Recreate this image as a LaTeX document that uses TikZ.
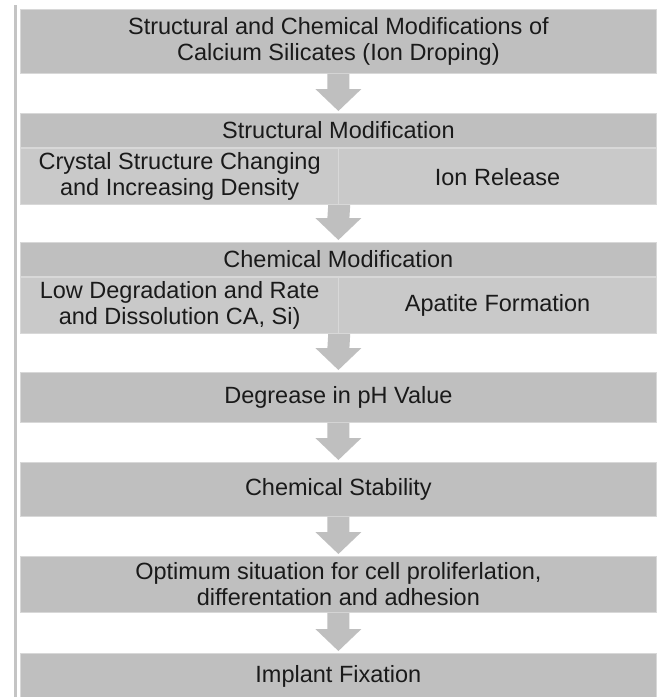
\documentclass[tikz,border=0pt]{standalone}
\usepackage{fontspec}
\setmainfont{Liberation Sans}
\usetikzlibrary{calc}
\definecolor{boxgray}{HTML}{BFBFBF}
\definecolor{cellgray}{HTML}{C9C9C9}
\definecolor{edgegray}{HTML}{D8D8D8}
\definecolor{linegray}{HTML}{C4C4C4}
\definecolor{txt}{HTML}{1A1A1A}
\newcommand\fatarrow[2]{%
  \fill[boxgray] ($(#1)+(-11,0)$) -- ($(#2)+(-11,24)$) -- ($(#2)+(-23,24)$)
    -- ($(#2)+(0,2)$) -- ($(#2)+(23,24)$) -- ($(#2)+(11,24)$)
    -- ($(#1)+(11,0)$) -- cycle;}
\begin{document}
\begin{tikzpicture}[x=1pt,y=1pt,
  box/.style={rectangle, fill=boxgray, draw=edgegray, line width=0.8pt,
    inner sep=0pt, align=center, text=txt, anchor=north west,
    minimum width=636pt, font=\fontsize{23.5}{26}\selectfont},
  cell/.style={box, fill=cellgray, minimum width=318pt, minimum height=56pt, line width=1.2pt}]
\useasboundingbox[fill=white] (0,0) rectangle (660,-697);
\draw[line width=3pt, draw=linegray] (15.5,-5) -- (15.5,-697);

\node[box, minimum height=64pt] (top) at (20,-9)
  {Structural and Chemical Modifications of\\Calcium Silicates (Ion Droping)};
\node[box, minimum height=34pt] (h1) at (20,-113) {Structural Modification};
\node[cell] (s1l) at (20,-148) {Crystal Structure Changing\\and Increasing Density};
\node[cell] (s1r) at (338,-148) {Ion Release};
\node[box, minimum height=34pt] (h2) at (20,-242) {Chemical Modification};
\node[cell] (s2l) at (20,-277) {Low Degradation and Rate\\and Dissolution CA, Si)};
\node[cell] (s2r) at (338,-277) {Apatite Formation};
\node[box, minimum height=50pt] (ph) at (20,-372) {Degrease in pH Value};
\node[box, minimum height=54pt] (cs) at (20,-462) {Chemical Stability};
\node[box, minimum height=56pt] (op) at (20,-556)
  {Optimum situation for cell proliferlation,\\differentation and adhesion};
\node[box, minimum height=46pt] (im) at (20,-653) {Implant Fixation};

\fatarrow{top.south}{h1.north}
\fatarrow{s1l.south east}{h2.north}
\fatarrow{s2l.south east}{ph.north}
\fatarrow{ph.south}{cs.north}
\fatarrow{cs.south}{op.north}
\fatarrow{op.south}{im.north}
\end{tikzpicture}
\end{document}
